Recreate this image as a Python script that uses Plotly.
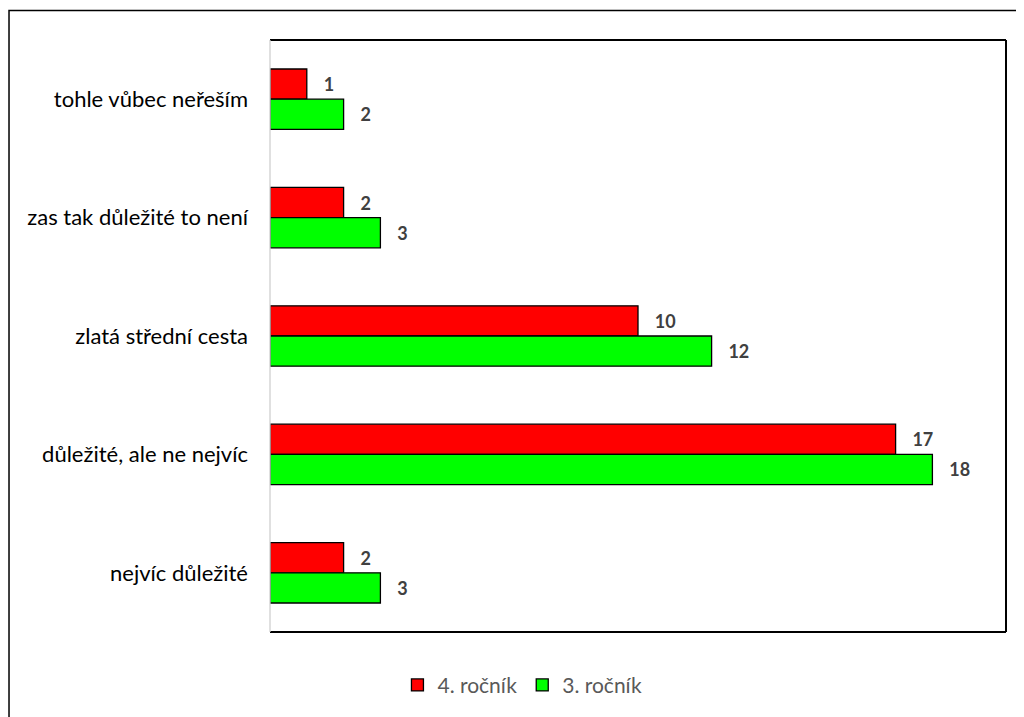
import plotly.graph_objects as go

categories = ["tohle vůbec neřeším", "zas tak důležité to není", "zlatá střední cesta",
              "důležité, ale ne nejvíc", "nejvíc důležité"]
series_names = ["4. ročník", "3. ročník"]
values_4 = [1, 2, 10, 17, 2]
values_3 = [2, 3, 12, 18, 3]
colors = ["#FF0000", "#00FF00"]

FONT = "Lato, Open Sans, sans-serif"

fig = go.Figure()
for name, vals, col in zip(series_names, [values_4, values_3], colors):
    fig.add_trace(go.Bar(
        y=categories, x=vals, name=name, orientation="h",
        marker=dict(color=col, line=dict(color="#000000", width=1.3)),
        text=vals, texttemplate="\u00a0\u00a0\u00a0<b>%{text}</b>", textposition="outside",
        textfont=dict(family=FONT, size=18, color="#404040"),
        cliponaxis=False,
    ))

fig.update_layout(
    width=1024, height=717,
    margin=dict(l=262, r=26, t=32, b=93),
    paper_bgcolor="white", plot_bgcolor="white",
    barmode="group", bargap=0.49, bargroupgap=0,
    font=dict(family=FONT, size=20, color="#000000"),
    xaxis=dict(range=[0, 20], showticklabels=False, showgrid=False, zeroline=False,
               showline=False, ticks=""),
    yaxis=dict(autorange="reversed", showgrid=False, zeroline=False, showline=False,
               ticks="", ticklabelstandoff=21,
               tickfont=dict(family=FONT, size=22, color="#000000")),
    legend=dict(orientation="h", x=0.343, xanchor="center", y=-0.09, yanchor="middle",
                font=dict(family=FONT, size=21, color="#595959"),
                itemwidth=30, tracegroupgap=0),
    showlegend=True,
    shapes=[
        # outer chart frame
        dict(type="rect", xref="paper", yref="paper", x0=-0.3546, x1=1.034, y0=-0.155, y1=1.0498,
             line=dict(color="#000000", width=1.5), fillcolor="rgba(0,0,0,0)", layer="below"),
        # plot area frame
        dict(type="line", xref="paper", yref="paper", x0=0, x1=1, y0=1, y1=1,
             line=dict(color="#000000", width=2)),
        dict(type="line", xref="paper", yref="paper", x0=1, x1=1, y0=0, y1=1,
             line=dict(color="#000000", width=2)),
        dict(type="line", xref="paper", yref="paper", x0=0, x1=1, y0=0, y1=0,
             line=dict(color="#000000", width=2)),
        dict(type="line", xref="paper", yref="paper", x0=0, x1=0, y0=0, y1=1,
             line=dict(color="#D0D0D0", width=1.3)),
    ],
)

fig.write_html("out.html")
